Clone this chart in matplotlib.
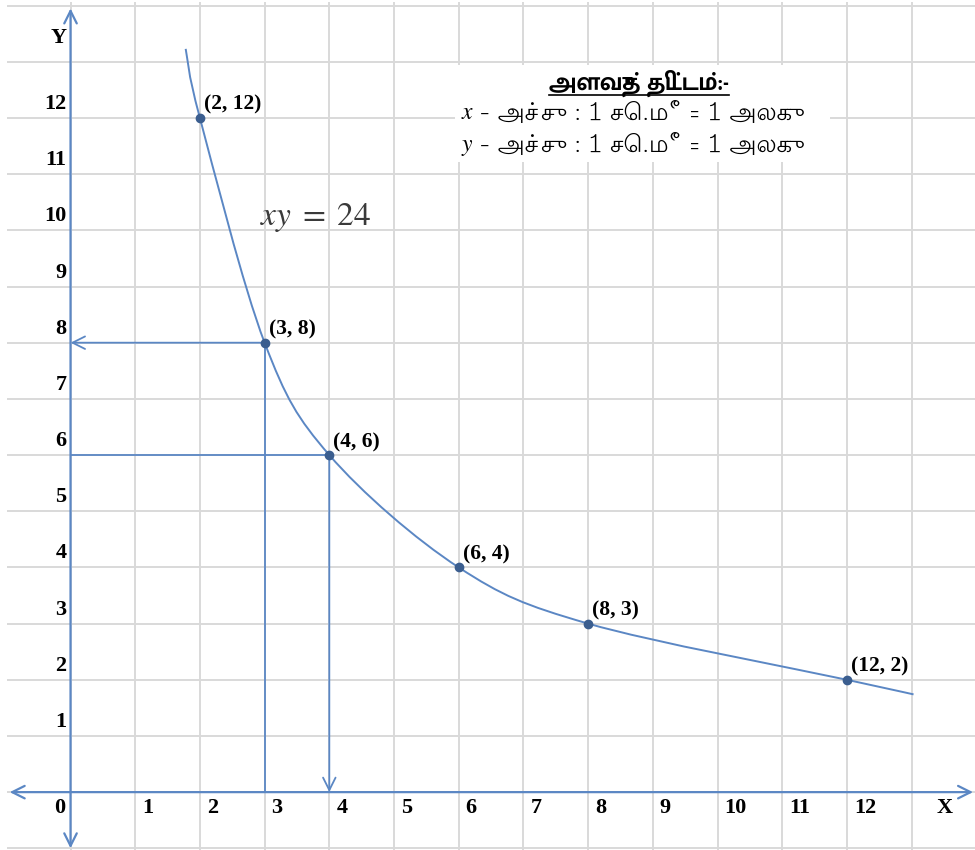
import matplotlib
matplotlib.use("Agg")
import matplotlib.pyplot as plt
import numpy as np
from matplotlib.path import Path
from matplotlib.patches import PathPatch, Rectangle
from matplotlib.lines import Line2D
from matplotlib.transforms import IdentityTransform

# marked points of xy = 24
pts_x = [2, 3, 4, 6, 8, 12]
pts_y = [12, 8, 6, 4, 3, 2]
pt_labels = ["(2, 12)", "(3, 8)", "(4, 6)", "(6, 4)", "(8, 3)", "(12, 2)"]

# smoothed curve, incl. the two loose ends
curve_x = [1.78, 2, 3, 4, 6, 8, 12, 13.03]
curve_y = [13.23, 12, 8, 6, 4, 3, 2, 1.74]

x_ticks = list(range(0, 13))
y_ticks = list(range(1, 13))

scale_title = "அளவுத் திட்டம்:-"
scale_line = "- அச்சு : 1 செ.மீ = 1 அலகு"

blue = "#5b87c4"
dot = "#3b5e8f"
grid_c = "#d9d9d9"
serif = "Liberation Serif"
tamil = ["Lohit Tamil", "DejaVu Sans"]

plt.rcParams["mathtext.fontset"] = "stix"
fig = plt.figure(figsize=(9.75, 8.5), dpi=100)
ax = fig.add_axes([0, 0, 1, 1])
xmin, xmax, ymin, ymax = -1.09, 13.98, -1.03, 14.1
ax.set_xlim(xmin, xmax)
ax.set_ylim(ymin, ymax)
ax.axis("off")

# grid paper
for gx in range(0, 14):
    ax.plot([gx, gx], [ymin, 14.05], color=grid_c, lw=1.4, zorder=0)
for gy in range(-1, 15):
    ax.plot([-0.97, xmax], [gy, gy], color=grid_c, lw=1.4, zorder=0)

# axes with open arrow heads
astyle = "<->,head_length=0.9,head_width=0.45"
ax.annotate("", xy=(13.95, 0), xytext=(-0.94, 0),
            arrowprops=dict(arrowstyle=astyle, color=blue, lw=1.6, shrinkA=0, shrinkB=0), zorder=3)
ax.annotate("", xy=(0, 13.95), xytext=(0, -1.0),
            arrowprops=dict(arrowstyle=astyle, color=blue, lw=1.6, shrinkA=0, shrinkB=0), zorder=3)

# helper lines from (3, 8) and (4, 6)
hstyle = "->,head_length=0.9,head_width=0.45"
ax.annotate("", xy=(0, 8), xytext=(3, 8),
            arrowprops=dict(arrowstyle=hstyle, color=blue, lw=1.3, shrinkA=0, shrinkB=0))
ax.plot([3, 3], [8, 0], color=blue, lw=1.3)
ax.plot([4, 0], [6, 6], color=blue, lw=1.3)
ax.annotate("", xy=(4, 0), xytext=(4, 6),
            arrowprops=dict(arrowstyle=hstyle, color=blue, lw=1.3, shrinkA=0, shrinkB=0))

# smooth curve (Catmull-Rom -> cubic bezier, like the spreadsheet smoothing)
P = np.column_stack([curve_x, curve_y])
ext = np.vstack([P[0], P, P[-1]])
verts = [P[0]]
codes = [Path.MOVETO]
for i in range(len(P) - 1):
    p0, p1, p2, p3 = ext[i], ext[i + 1], ext[i + 2], ext[i + 3]
    verts += [p1 + (p2 - p0) / 6, p2 - (p3 - p1) / 6, p2]
    codes += [Path.CURVE4] * 3
ax.add_patch(PathPatch(Path(verts, codes), fill=False, edgecolor=blue, lw=1.4, zorder=2))

ax.plot(pts_x, pts_y, "o", ms=6, color=dot, zorder=4)
for px, py, lab in zip(pts_x, pts_y, pt_labels):
    ax.annotate(lab, (px, py), xytext=(4, 13), textcoords="offset pixels",
                ha="left", va="center", fontfamily=serif, fontweight="bold", fontsize=15.5)

# tick labels
for t in x_ticks:
    if t == 0:
        ax.annotate("0", (0, 0), xytext=(-5, -16), textcoords="offset pixels", ha="right",
                    va="center", fontfamily=serif, fontweight="bold", fontsize=16)
    else:
        ax.annotate(str(t), (t, 0), xytext=(7, -16), textcoords="offset pixels", ha="left",
                    va="center", fontfamily=serif, fontweight="bold", fontsize=16)
for t in y_ticks:
    ax.annotate(str(t), (0, t), xytext=(-4, 14), textcoords="offset pixels", ha="right",
                va="center", fontfamily=serif, fontweight="bold", fontsize=16)
ax.annotate("X", (13, 0), xytext=(33, -16), textcoords="offset pixels", ha="center",
            va="center", fontfamily=serif, fontweight="bold", fontsize=16)
ax.annotate("Y", (0, 13.95), xytext=(-12, -30), textcoords="offset pixels", ha="center",
            va="center", fontfamily=serif, fontweight="bold", fontsize=16)

ax.text(3.78, 10.22, r"$xy\;=\;24$", ha="center", va="center", fontsize=24, color="#3a3a3a")

# scale box
ax.add_patch(Rectangle((455 / 975, 1 - 162 / 850), 375 / 975, 97 / 850,
                       transform=ax.transAxes, facecolor="white", edgecolor="none", zorder=1))
title = ax.text(639 / 975, 1 - 83 / 850, scale_title, transform=ax.transAxes, ha="center",
                va="center", fontfamily=["Mukta Malar", "DejaVu Sans"], fontweight="bold",
                fontsize=18, zorder=5)
for row, var in enumerate(["x", "y"]):
    yy = 1 - (113 + 32 * row) / 850
    ax.text(467 / 975, yy, var, transform=ax.transAxes, ha="center", va="center",
            fontfamily="STIXGeneral", fontstyle="italic", fontsize=17, zorder=5)
    ax.text(479 / 975, yy, scale_line, transform=ax.transAxes, ha="left", va="center",
            fontfamily=tamil, fontsize=17.5, zorder=5)

fig.canvas.draw()
bb = title.get_window_extent()
fig.add_artist(Line2D([bb.x0, bb.x1], [bb.y0 + 2, bb.y0 + 2], transform=IdentityTransform(),
                      color="black", lw=1.2))

fig.savefig("out.png", dpi=100)
